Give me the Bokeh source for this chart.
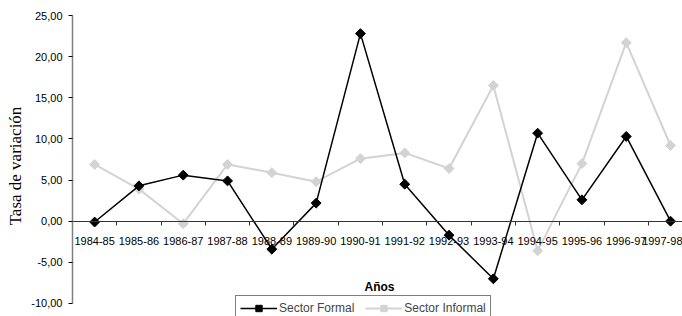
import math
from bokeh.plotting import figure
from bokeh.models import Range1d, FixedTicker, Label, Legend, LegendItem
from bokeh.embed import file_html
from bokeh.resources import INLINE

periodos = ["1984-85", "1985-86", "1986-87", "1987-88", "1988-89", "1989-90", "1990-91",
            "1991-92", "1992-93", "1993-94", "1994-95", "1995-96", "1996-97", "1997-98"]
sector_formal = [-0.1, 4.3, 5.6, 4.9, -3.4, 2.2, 22.8, 4.5, -1.7, -7.0, 10.7, 2.6, 10.3, 0.0]
sector_informal = [6.9, 3.9, -0.3, 6.9, 5.9, 4.8, 7.6, 8.3, 6.4, 16.5, -3.6, 7.0, 21.7, 9.2]
y_ticks = [-10, -5, 0, 5, 10, 15, 20, 25]
y_tick_labels = ["-10,00", "-5,00", "0,00", "5,00", "10,00", "15,00", "20,00", "25,00"]

FONT = "Liberation Sans"
xs = list(range(len(periodos)))

# frame runs from y=15 (value 25) to the canvas bottom at y=316; -10 sits at y=303
p = figure(width=682, height=316, output_backend="svg", toolbar_location=None,
           x_range=Range1d(-0.5, len(periodos) - 0.73), y_range=Range1d(-11.58, 25),
           min_border_left=72, min_border_right=0, min_border_top=15, min_border_bottom=0)
p.outline_line_color = None
p.xgrid.visible = False
p.ygrid.visible = False
p.background_fill_color = "white"
p.border_fill_color = "white"

# y axis
p.yaxis.bounds = (-10, 25)
p.yaxis.ticker = FixedTicker(ticks=y_ticks, minor_ticks=[])
p.yaxis.major_label_overrides = {t: l for t, l in zip(y_ticks, y_tick_labels)}
p.yaxis.axis_line_color = "#808080"
p.yaxis.axis_line_width = 1.5
p.yaxis.major_tick_line_color = "#000000"
p.yaxis.major_tick_out = 4
p.yaxis.major_tick_in = 0
p.yaxis.major_label_standoff = 6
p.yaxis.major_label_text_font = FONT
p.yaxis.major_label_text_font_size = "11px"
p.yaxis.major_label_text_color = "#000000"
p.yaxis.axis_label = "Tasa de variación"
p.yaxis.axis_label_text_font = "Liberation Serif"
p.yaxis.axis_label_text_font_style = "normal"
p.yaxis.axis_label_text_font_size = "17px"
p.yaxis.axis_label_text_color = "#000000"
p.yaxis.axis_label_standoff = 3

# x axis crossing at zero
boundaries = [i - 0.5 for i in range(len(periodos) + 1)]
p.xaxis.fixed_location = 0
p.xaxis.ticker = FixedTicker(ticks=xs, minor_ticks=boundaries)
p.xaxis.major_label_overrides = {i: s for i, s in zip(xs, periodos)}
p.xaxis.axis_line_color = "#333333"
p.xaxis.axis_line_width = 1
p.xaxis.major_tick_out = 0
p.xaxis.major_tick_in = 0
p.xaxis.minor_tick_out = 4
p.xaxis.minor_tick_in = 0
p.xaxis.minor_tick_line_color = "#333333"
p.xaxis.major_label_standoff = 12
p.xaxis.major_label_text_font = FONT
p.xaxis.major_label_text_font_size = "11px"
p.xaxis.major_label_text_color = "#000000"

# series
r_inf_line = p.line(xs, sector_informal, line_color="#d3d3d3", line_width=2)
r_inf_mark = p.scatter(xs, sector_informal, marker="square", angle=math.pi / 4, size=7,
                       fill_color="#d3d3d3", line_color="#d3d3d3")
r_for_line = p.line(xs, sector_formal, line_color="#000000", line_width=1.5)
r_for_mark = p.scatter(xs, sector_formal, marker="square", angle=math.pi / 4, size=7,
                       fill_color="#000000", line_color="#000000")

legend = Legend(items=[LegendItem(label="Sector Formal", renderers=[r_for_line, r_for_mark]),
                       LegendItem(label="Sector Informal", renderers=[r_inf_line, r_inf_mark])],
                orientation="horizontal", location=(163, -5),
                glyph_width=37, glyph_height=16, label_height=16, label_standoff=2, spacing=11,
                padding=4, margin=0,
                border_line_color="#000000", border_line_width=1,
                label_text_font=FONT, label_text_font_size="12px",
                background_fill_color="white", background_fill_alpha=1)
p.add_layout(legend, "center")

p.add_layout(Label(x=307, y=30, x_units="screen", y_units="screen", text="Años",
                   text_align="center", text_baseline="middle", text_font=FONT,
                   text_font_style="bold", text_font_size="12px", text_color="#000000"))

open("out.html", "w").write(file_html(p, INLINE))
